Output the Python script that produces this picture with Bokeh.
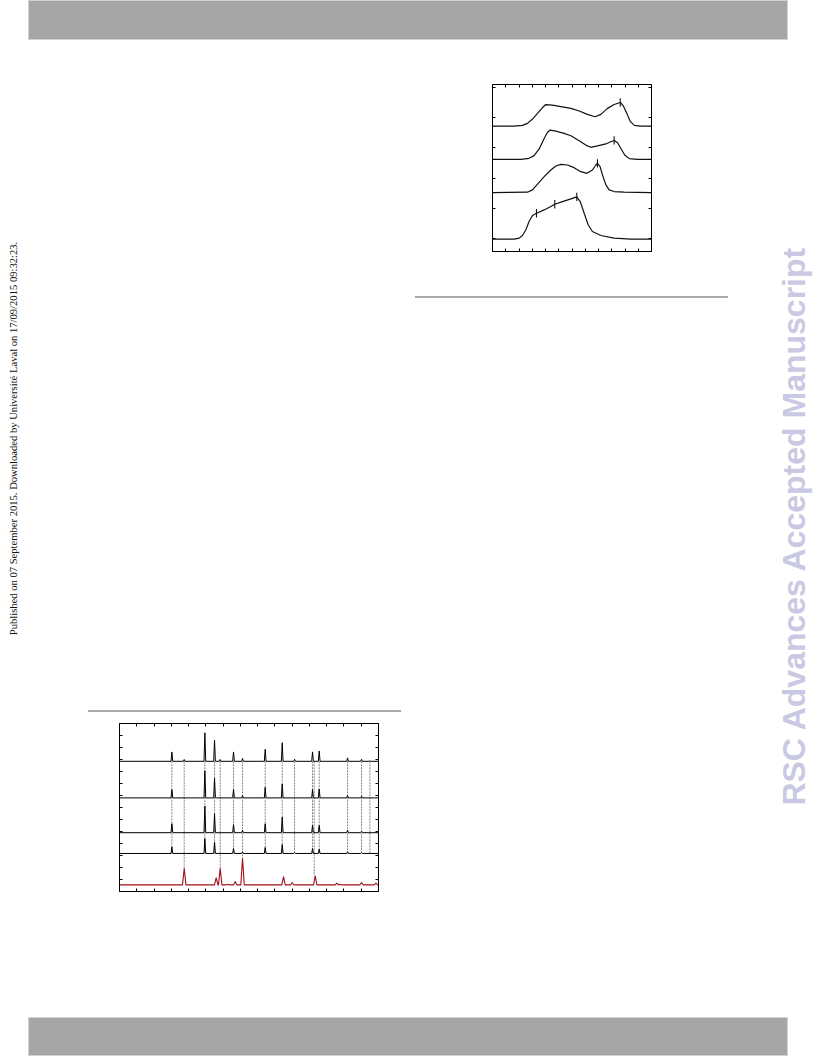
import math
from bokeh.plotting import figure
from bokeh.models import Range1d, LinearAxis, FixedTicker, Spacer, Div, CustomLabelingPolicy
from bokeh.layouts import row, column
from bokeh.embed import file_html
from bokeh.resources import INLINE
from bokeh.core.properties import value

# ---------------- page texts ----------------
side_text = "Published on 07 September 2015. Downloaded by Université Laval on 17/09/2015 09:32:23."
watermark = "RSC Advances Accepted Manuscript"

# ---------------- top chart (stacked spectra) ----------------
uv_x_ticks = [250, 300, 350, 400, 450, 500, 550, 600, 650, 700, 750]
uv_y_ticks = [0.8, 2.6, 4.4, 6.2, 8.0, 9.8]

uv_x1 = [200, 280, 313, 332, 351, 370, 389, 401, 426, 458, 496, 527, 558, 587, 609, 634, 659, 682, 694, 707, 719, 735, 760, 800]
uv_y1 = [7.51, 7.51, 7.55, 7.67, 7.93, 8.27, 8.62, 8.80, 8.76, 8.68, 8.57, 8.41, 8.21, 8.07, 8.21, 8.57, 8.80, 8.92, 8.72, 8.27, 7.81, 7.55, 7.51, 7.51]

uv_x2 = [200, 307, 338, 357, 376, 395, 407, 418, 439, 470, 496, 527, 552, 571, 596, 628, 646, 659, 672, 684, 699, 716, 747, 800]
uv_y2 = [5.52, 5.52, 5.58, 5.74, 6.14, 6.77, 7.13, 7.27, 7.21, 7.07, 6.93, 6.63, 6.37, 6.24, 6.32, 6.44, 6.57, 6.65, 6.51, 6.18, 5.78, 5.56, 5.52, 5.52]

uv_x3 = [200, 332, 351, 370, 395, 420, 439, 458, 483, 508, 533, 556, 577, 590, 596, 606, 615, 628, 640, 659, 697, 800]
uv_y3 = [3.53, 3.55, 3.69, 4.03, 4.48, 4.88, 5.12, 5.22, 5.18, 5.02, 4.78, 4.68, 4.88, 5.18, 5.28, 5.08, 4.58, 3.99, 3.69, 3.59, 3.55, 3.53]

uv_x4 = [200, 282, 301, 313, 326, 338, 351, 366, 395, 420, 435, 464, 496, 518, 531, 546, 561, 577, 609, 659, 722, 800]
uv_y4 = [0.74, 0.74, 0.80, 0.96, 1.30, 1.80, 2.16, 2.29, 2.49, 2.69, 2.83, 2.99, 3.15, 3.27, 2.99, 2.29, 1.60, 1.20, 0.96, 0.80, 0.74, 0.74]

mark_x = [682, 659, 596, 366, 435, 518]
mark_y = [8.92, 6.65, 5.28, 2.29, 2.83, 3.27]

# ---------------- bottom chart (XRD patterns) ----------------
xrd_x_ticks = [10, 15, 20, 25, 30, 35, 40, 45, 50, 55, 60, 65, 70, 75]
xrd_y_ticks = [1, 2, 3, 4, 5, 6, 7, 8, 9, 10, 11, 12, 13]

p1_base = 10.85
p1_pos = [20.17, 23.74, 29.72, 32.52, 34.16, 38.02, 40.63, 47.19, 52.12, 55.69, 60.90, 62.83, 71.04, 75.09, 77.51]
p1_top = [11.63, 11.00, 13.23, 12.62, 11.00, 11.63, 11.08, 11.85, 12.40, 11.02, 11.63, 11.71, 11.13, 11.02, 10.90]

p2_base = 7.80
p2_pos = [20.17, 29.72, 32.52, 38.02, 40.63, 47.19, 52.12, 60.90, 62.83, 71.04, 75.09]
p2_top = [8.49, 10.06, 9.45, 8.49, 7.99, 8.68, 8.96, 8.49, 8.54, 7.99, 7.94]

p3_base = 4.90
p3_pos = [20.17, 29.72, 32.52, 38.02, 40.63, 47.19, 52.12, 60.90, 62.83, 71.04, 75.09]
p3_top = [5.65, 7.11, 6.48, 5.57, 5.10, 5.65, 6.20, 5.51, 5.51, 5.10, 5.02]

p4_base = 3.17
p4_pos = [20.17, 29.72, 32.52, 38.02, 40.63, 47.19, 52.12, 55.69, 60.90, 62.83, 71.04, 75.09]
p4_top = [3.72, 4.41, 4.13, 3.58, 3.31, 3.67, 3.91, 3.25, 3.58, 3.53, 3.31, 3.25]

ref_base = 0.55
ref_pos = [23.74, 33.00, 34.16, 36.29, 38.51, 40.63, 52.50, 55.01, 61.67, 67.95, 68.91, 75.09, 79.24]
ref_top = [1.93, 1.16, 1.93, 0.61, 0.83, 2.76, 1.24, 0.75, 1.30, 0.69, 0.61, 0.75, 0.69]

guide_x = [20.17, 23.74, 29.72, 32.52, 34.16, 38.02, 40.63, 47.19, 52.12, 55.69, 60.90, 61.38, 62.83, 71.04, 75.09, 77.51]
guide_bottom = [3.17, 1.93, 3.17, 3.17, 1.93, 3.17, 2.76, 3.17, 3.17, 3.17, 3.17, 1.30, 3.17, 3.17, 3.17, 3.17]
guide_top = p1_base


def pattern_line(pos, top, base, half_width, x_start=5.0, x_end=80.0):
    xs, ys = [x_start], [base]
    for p, t in sorted(zip(pos, top)):
        xs += [p - half_width, p, p + half_width]
        ys += [base, t, base]
    xs.append(x_end)
    ys.append(base)
    return xs, ys


def add_frame_axes(fig, xticks, yticks, tick_len=3):
    def ax(ticks):
        return LinearAxis(ticker=FixedTicker(ticks=ticks),
                          major_tick_in=tick_len, major_tick_out=0,
                          minor_tick_in=0, minor_tick_out=0,
                          major_label_policy=CustomLabelingPolicy(code="return []"),
                          major_label_standoff=0,
                          axis_line_color="black", major_tick_line_color="black",
                          axis_line_width=1, major_tick_line_width=1)
    fig.add_layout(ax(xticks), "below")
    fig.add_layout(ax(xticks), "above")
    fig.add_layout(ax(yticks), "left")
    fig.add_layout(ax(yticks), "right")
    fig.outline_line_color = "black"
    fig.outline_line_width = 1


# ---------------- top chart figure ----------------
fig1 = figure(width=219, height=241, x_range=Range1d(200, 800), y_range=Range1d(0, 10),
              x_axis_type=None, y_axis_type=None,
              min_border_left=30, min_border_right=30, min_border_top=44, min_border_bottom=30,
              toolbar_location=None, output_backend="svg", background_fill_color="white")
add_frame_axes(fig1, uv_x_ticks, uv_y_ticks, tick_len=3)
for xs, ys in [(uv_x1, uv_y1), (uv_x2, uv_y2), (uv_x3, uv_y3), (uv_x4, uv_y4)]:
    fig1.line(xs, ys, line_color="#111111", line_width=1.2)
fig1.segment(x0=mark_x, y0=[y - 0.25 for y in mark_y], x1=mark_x, y1=[y + 0.25 for y in mark_y],
             line_color="#111111", line_width=1.1)

# ---------------- bottom chart figure ----------------
fig2 = figure(width=319, height=209, x_range=Range1d(5, 80), y_range=Range1d(0, 14),
              x_axis_type=None, y_axis_type=None,
              min_border_left=30, min_border_right=30, min_border_top=10, min_border_bottom=30,
              toolbar_location=None, output_backend="svg", background_fill_color="white")
add_frame_axes(fig2, xrd_x_ticks, xrd_y_ticks, tick_len=3)
fig2.segment(x0=guide_x, y0=[guide_top] * len(guide_x), x1=guide_x, y1=guide_bottom,
             line_color="#666666", line_width=0.8, line_dash="2 1")
for pos, top, base in [(p1_pos, p1_top, p1_base), (p2_pos, p2_top, p2_base),
                       (p3_pos, p3_top, p3_base), (p4_pos, p4_top, p4_base)]:
    xs, ys = pattern_line(pos, top, base, 0.25)
    fig2.line(xs, ys, line_color="black", line_width=1)
xs, ys = pattern_line(ref_pos, ref_top, ref_base, 0.5)
fig2.line(xs, ys, line_color="#a0101a", line_width=1.1)

# ---------------- page furniture ----------------
def bar(w, h):
    return Div(text="", width=w, height=h, margin=0,
               styles={"background-color": "#a6a6a6", "border": "1px solid #d2d2d2",
                       "box-sizing": "border-box"})


def rule(w):
    return Div(text="", width=w, height=2, margin=0,
               styles={"background-color": "#a9a9a9"})


def sp(w, h):
    return Spacer(width=w, height=h, margin=0)


left = figure(width=28, height=977, x_range=Range1d(0, 28), y_range=Range1d(0, 977),
              x_axis_type=None, y_axis_type=None, min_border=0, outline_line_color=None,
              toolbar_location=None, output_backend="svg")
left.text(x=[13], y=[579], text=[side_text], angle=math.pi / 2, text_align="center",
          text_baseline="middle", text_font=value("Liberation Serif"),
          text_font_size="10.6px", text_color="#111111")

right = figure(width=58, height=977, x_range=Range1d(0, 58), y_range=Range1d(0, 977),
               x_axis_type=None, y_axis_type=None, min_border=0, outline_line_color=None,
               toolbar_location=None, output_backend="svg")
right.text(x=[35], y=[492], text=[watermark], angle=math.pi / 2, text_align="center",
           text_baseline="alphabetic", text_font=value("Liberation Sans"),
           text_font_style="bold", text_font_size="32px", text_color="#c9c9e3")

middle = column(
    row(sp(434, 241), fig1, sp(77, 241)),
    sp(730, 15),
    row(sp(387, 2), rule(313), sp(30, 2)),
    sp(730, 412),
    row(sp(60, 2), rule(313), sp(357, 2)),
    row(sp(61, 209), fig2, sp(350, 209)),
    sp(730, 96),
)

page = column(
    row(sp(28, 40), bar(760, 40), sp(28, 40)),
    row(left, middle, right),
    row(sp(28, 39), bar(760, 39), sp(28, 39)),
)

open("out.html", "w").write(file_html(page, INLINE))
